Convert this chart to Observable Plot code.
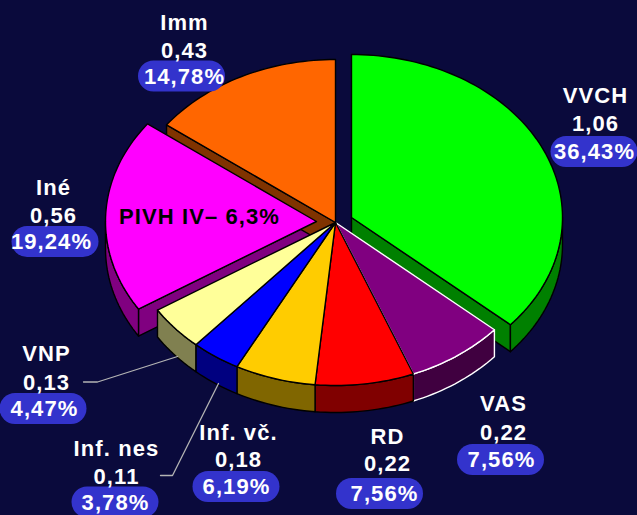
<!DOCTYPE html>
<html>
<head>
<meta charset="utf-8">
<script src="https://cdn.jsdelivr.net/npm/d3@7"></script>
<script src="https://cdn.jsdelivr.net/npm/@observablehq/plot@0.6"></script>
<style>
  html, body { margin: 0; padding: 0; background: #0a0a3c; overflow: hidden; }
  svg { display: block; }
  svg text { letter-spacing: 1.1px; }
</style>
</head>
<body>
<script>
// ---- Data ----
const categories = ["VVCH", "VAS", "RD", "Inf. vč.", "Inf. nes", "VNP", "Iné", "Imm"];
const values = [1.06, 0.22, 0.22, 0.18, 0.11, 0.13, 0.56, 0.43];
const percents = [36.43, 7.56, 7.56, 6.19, 3.78, 4.47, 19.24, 14.78];
const noteText = "PIVH IV– 6,3%";

// ---- Styles ----
const topColors = ["#00ff00", "#800080", "#ff0000", "#ffcc00", "#0000ff", "#ffff99", "#ff00ff", "#ff6600"];
const sideColors = ["#008000", "#400040", "#800000", "#806600", "#000080", "#808050", "#800080", "#803300"];
const edgeColors = ["#000", "#fff", "#000", "#000", "#000", "#000", "#000", "#000"];

// ---- Pie layout (chart units = pixels) ----
const W = 637, H = 515;
const pie = {cx: 335, cy: 222, rx: 211, ry: 163, depth: 27};
const explodeX = [16, 0, 0, 0, 0, 0, -19, 0];
const explodeY = [-5, 0, 0, 0, 0, 0, -1, 0];

// ---- Callout layout ----
const nameX  = [595, 503, 387, 238, 116, 46, 53, 184];
const nameY  = [95, 403, 436, 432, 448, 353, 187, 22];
const valueY = [123, 432, 463, 459, 476, 382, 215, 50];
const pctX   = [594, 501, 384, 236, 115, 44, 51, 184];
const pillCx = [594, 500.5, 379.5, 236, 115, 43, 55, 181.5];
const pillCy = [151.5, 459.5, 493.5, 486.5, 502, 408.5, 241.5, 76];
const pillW = 87, pillH = 31;
const leaders = [
  {id: "VNP", pts: [[83, 381.5], [97, 381.5], [177, 356]]},
  {id: "Inf. nes", pts: [[160, 475], [172, 475], [218, 383]]}
];

// ---- Slice geometry derived from the values ----
const total = d3.sum(values);
let acc = 0;
const slices = values.map((v, i) => {
  const a0 = acc / total * 360;
  acc += v;
  const a1 = acc / total * 360;
  return {i, a0, a1, cx: pie.cx + explodeX[i], cy: pie.cy + explodeY[i]};
});
const rim = (s, deg, dy = 0) => {
  const t = deg * Math.PI / 180;
  return [s.cx + pie.rx * Math.sin(t), s.cy - pie.ry * Math.cos(t) + dy];
};
const arcPts = (s, a0, a1, dy = 0) => {
  const n = Math.max(2, Math.ceil((a1 - a0) / 1.5));
  return d3.range(n + 1).map(k => rim(s, a0 + (a1 - a0) * k / n, dy));
};

const polys = [];
const addPoly = (id, pts, fill, stroke) =>
  pts.forEach(p => polys.push({id, px: p[0], py: p[1], fill, stroke}));

// 1. cut faces of the pulled-out slices
slices.forEach(s => {
  if (explodeX[s.i] === 0) return;
  const apex = [s.cx, s.cy], apexB = [s.cx, s.cy + pie.depth];
  const face = a => {
    const p = rim(s, a);
    addPoly(`face-${s.i}-${a}`, [apex, p, [p[0], p[1] + pie.depth], apexB], sideColors[s.i], edgeColors[s.i]);
  };
  if (s.a1 > 0 && s.a1 < 180) face(s.a1);
  if (s.a0 > 180 && s.a0 < 360) face(s.a0);
});
// slice with no pull-out whose start edge faces the viewer
slices.forEach(s => {
  if (explodeX[s.i] !== 0 || s.a0 <= 270) return;
  const apex = [s.cx, s.cy], apexB = [s.cx, s.cy + pie.depth];
  const p = rim(s, s.a0);
  addPoly(`face-${s.i}`, [apex, p, [p[0], p[1] + pie.depth], apexB], sideColors[s.i], edgeColors[s.i]);
});
// 2. rim walls
slices.forEach(s => {
  const a0 = Math.max(s.a0, 90), a1 = Math.min(s.a1, 270);
  if (a1 <= a0) return;
  addPoly(`wall-${s.i}`, [...arcPts(s, a0, a1), ...arcPts(s, a0, a1, pie.depth).reverse()], sideColors[s.i], edgeColors[s.i]);
});
// 3. top faces
slices.forEach(s => {
  addPoly(`top-${s.i}`, [[s.cx, s.cy], ...arcPts(s, s.a0, s.a1)], topColors[s.i], edgeColors[s.i]);
});

const leaderRows = leaders.flatMap(l => l.pts.map(p => ({id: l.id, px: p[0], py: p[1]})));
const rows = categories.map((c, i) => ({
  name: c,
  value: values[i].toFixed(2).replace(".", ","),
  pct: percents[i].toFixed(2).replace(".", ",") + "%",
  i
}));

const font = {fontFamily: "'Liberation Sans', Arial, sans-serif", fontWeight: "bold", lineAnchor: "middle", textAnchor: "middle"};

const chart = Plot.plot({
  width: W,
  height: H,
  margin: 0,
  style: {background: "#0a0a3c", overflow: "hidden"},
  x: {domain: [0, W], range: [0, W], axis: null},
  y: {domain: [0, H], range: [0, H], axis: null},
  color: {type: "identity"},
  marks: [
    Plot.line(polys, {x: "px", y: "py", z: "id", fill: "fill", stroke: "stroke", strokeWidth: 1.4, curve: "linear-closed", strokeLinejoin: "round"}),
    Plot.line(leaderRows, {x: "px", y: "py", z: "id", stroke: "#b4b4b4", strokeWidth: 1.3}),
    Plot.rect(rows, {
      x1: d => pillCx[d.i] - pillW / 2, x2: d => pillCx[d.i] + pillW / 2,
      y1: d => pillCy[d.i] - pillH / 2, y2: d => pillCy[d.i] + pillH / 2,
      fill: "#3333cc", rx: 15.5, ry: 15.5
    }),
    Plot.text(rows, {x: d => nameX[d.i], y: d => nameY[d.i], text: "name", fill: "#fff", fontSize: 22, ...font}),
    Plot.text(rows, {x: d => nameX[d.i], y: d => valueY[d.i], text: "value", fill: "#fff", fontSize: 22, ...font}),
    Plot.text(rows, {x: d => pctX[d.i], y: d => pillCy[d.i], text: "pct", fill: "#fff", fontSize: 22, ...font}),
    Plot.text([noteText], {x: () => 199, y: () => 216, text: d => d, fill: "#000", fontSize: 22, ...font})
  ]
});
document.body.appendChild(chart);
</script>
</body>
</html>
